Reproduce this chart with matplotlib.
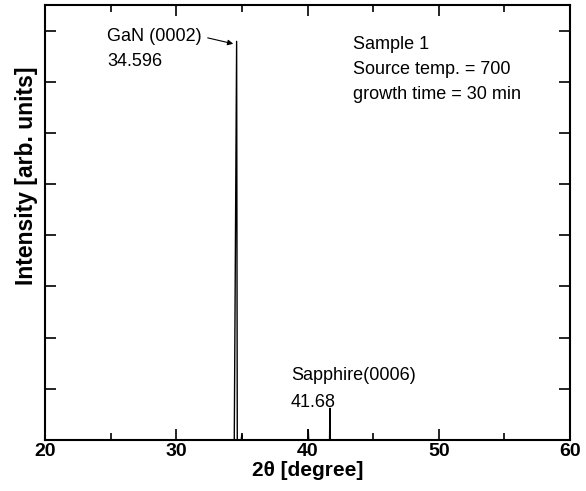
import matplotlib.pyplot as plt
from matplotlib.ticker import MultipleLocator

plt.rcParams['font.family'] = ['Liberation Sans', 'DejaVu Sans']

# XRD scan, points
two_theta = [20.0, 34.42, 34.60, 34.65, 34.95, 34.99, 35.03, 40.03, 40.06, 40.09, 41.68, 41.71, 41.74, 60.0]
intensity = [0.0, 0.0, 7.79, 0.0, 0.0, 0.10, 0.0, 0.0, 0.20, 0.0, 0.0, 0.62, 0.0, 0.0]

xticks = [20, 30, 40, 50, 60]

fig = plt.figure(figsize=(5.86, 4.91), dpi=100)
ax = fig.add_axes([0.0768, 0.1039, 0.8959, 0.8859])

ax.plot(two_theta, intensity, color='black', lw=1.0)

ax.set_xlim(20, 60)
ax.set_ylim(0, 8.5)
ax.set_xticks(xticks)
ax.xaxis.set_minor_locator(MultipleLocator(5))
ax.yaxis.set_major_locator(MultipleLocator(1))
ax.set_yticklabels([])
ax.tick_params(which='both', direction='in', top=True, right=True, width=1.2)
ax.tick_params(which='major', length=8, pad=2, labelsize=14)
ax.tick_params(which='minor', length=5)
for lab in ax.get_xticklabels():
    lab.set_fontweight('bold')
for s in ax.spines.values():
    s.set_linewidth(1.5)

ax.set_xlabel('2θ [degree]', fontsize=15, fontweight='bold', labelpad=1)
ax.set_ylabel('Intensity [arb. units]', fontsize=16.5, fontweight='bold')
ax.yaxis.set_label_coords(-0.013, 0.607)

fs = 13
ax.text(24.72, 7.89, 'GaN (0002)', fontsize=fs, va='center')
ax.text(24.72, 7.40, '34.596', fontsize=fs, va='center')
ax.annotate('', xy=(34.55, 7.73), xytext=(32.19, 7.87),
            arrowprops=dict(arrowstyle='-|>', color='black', lw=0.8, mutation_scale=8))

ax.text(43.47, 7.73, 'Sample 1', fontsize=fs, va='center')
ax.text(43.47, 7.24, 'Source temp. = 700', fontsize=fs, va='center')
ax.text(43.47, 6.75, 'growth time = 30 min', fontsize=fs, va='center')

ax.text(38.74, 1.26, 'Sapphire(0006)', fontsize=fs, va='center')
ax.text(38.74, 0.73, '41.68', fontsize=fs, va='center')

fig.savefig('out.png', dpi=100)
